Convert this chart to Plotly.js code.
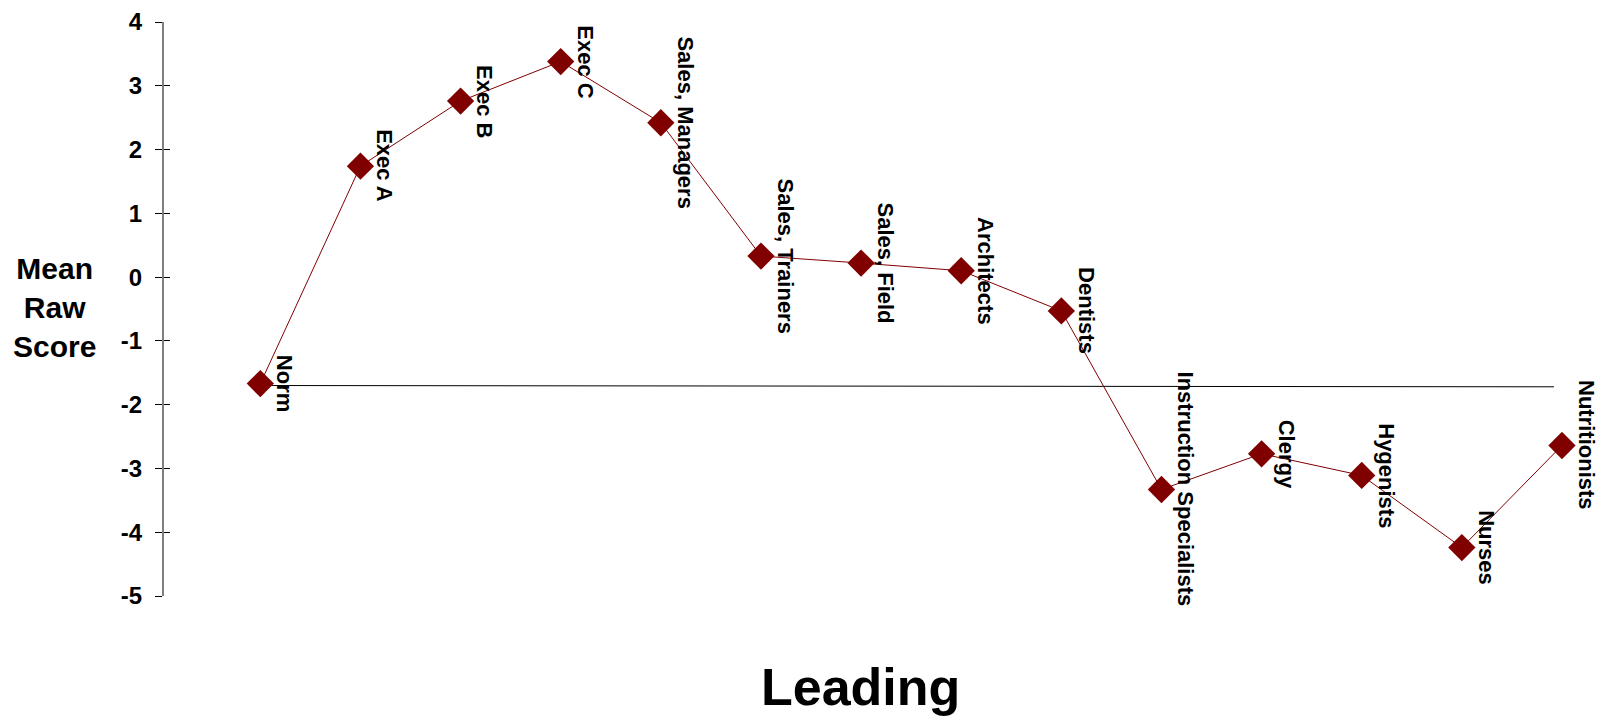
<!DOCTYPE html>
<html>
<head>
<meta charset="utf-8">
<script src="https://cdn.plot.ly/plotly-3.0.1.min.js"></script>
<style>
  html, body { margin: 0; padding: 0; background: #fff; }
  #chart { width: 1602px; height: 717px; }
</style>
</head>
<body>
<div id="chart"></div>
<script>
// Occupational groups and their mean raw scores on the Leading scale
const categories = [
  'Norm', 'Exec A', 'Exec B', 'Exec C', 'Sales, Managers', 'Sales, Trainers',
  'Sales, Field', 'Architects', 'Dentists', 'Instruction Specialists',
  'Clergy', 'Hygenists', 'Nurses', 'Nutritionists'
];
const meanRawScores = [
  -1.67, 1.74, 2.76, 3.38, 2.42, 0.33, 0.22, 0.10, -0.53, -3.33,
  -2.77, -3.11, -4.24, -2.64
];

// Norm reference line drawn across the groups
const normLineSpan = [0, 12.92];
const normLineLevel = [-1.70, -1.72];

const yTickValues = [4, 3, 2, 1, 0, -1, -2, -3, -4, -5];

const FONT = 'Liberation Sans, Arial, Helvetica, sans-serif';
const MAROON = '#800000';

const xIndex = categories.map((_, i) => i);

const traces = [
  {
    x: normLineSpan,
    y: normLineLevel,
    mode: 'lines',
    line: { color: '#000000', width: 1 },
    hoverinfo: 'skip',
    showlegend: false
  },
  {
    x: xIndex,
    y: meanRawScores,
    text: categories,
    mode: 'lines+markers',
    line: { color: MAROON, width: 1 },
    marker: { symbol: 'diamond', size: 21, color: MAROON },
    hovertemplate: '%{text}: %{y}<extra></extra>',
    showlegend: false
  }
];

// Group names written vertically beside each marker
const pointLabels = categories.map((name, i) => ({
  x: i,
  y: meanRawScores[i],
  xref: 'x',
  yref: 'y',
  text: name,
  showarrow: false,
  textangle: 90,
  xanchor: 'left',
  yanchor: 'middle',
  xshift: 10,
  font: { family: FONT, size: 22, weight: 'bold', color: '#000' }
}));

const layout = {
  width: 1602,
  height: 717,
  margin: { l: 164, r: 20, t: 22, b: 121, pad: 0 },
  paper_bgcolor: '#ffffff',
  plot_bgcolor: '#ffffff',
  showlegend: false,
  xaxis: {
    range: [-0.962, 13.2],
    showgrid: false,
    zeroline: false,
    showline: false,
    showticklabels: false,
    ticks: ''
  },
  yaxis: {
    range: [-5, 4],
    tickvals: yTickValues,
    ticktext: yTickValues.map(String),
    showgrid: false,
    zeroline: false,
    showline: true,
    linecolor: '#7f7f7f',
    linewidth: 2,
    ticks: 'outside',
    ticklen: 7,
    tickwidth: 1,
    tickcolor: '#000',
    ticklabelstandoff: 8,
    tickfont: { family: FONT, size: 24, weight: 'bold', color: '#000' }
  },
  yaxis2: {
    range: [-5, 4],
    overlaying: 'y',
    anchor: 'x',
    side: 'left',
    tickvals: yTickValues,
    showgrid: false,
    zeroline: false,
    showline: false,
    showticklabels: false,
    ticks: 'inside',
    ticklen: 6,
    tickwidth: 1,
    tickcolor: '#000'
  },
  annotations: pointLabels.concat([
    {
      xref: 'paper', yref: 'y',
      x: 0, y: -0.47,
      xshift: -110,
      xanchor: 'center', yanchor: 'middle',
      text: 'Mean<br>Raw<br>Score',
      align: 'center',
      showarrow: false,
      font: { family: FONT, size: 30, weight: 'bold', color: '#000' }
    },
    {
      xref: 'paper', yref: 'paper',
      x: 0.4915, y: 0,
      yshift: -91,
      xanchor: 'center', yanchor: 'middle',
      text: 'Leading',
      showarrow: false,
      font: { family: FONT, size: 52, weight: 'bold', color: '#000' }
    }
  ])
};

// A dummy trace keeps the overlay axis with its inner tick marks on screen
traces.push({ x: [null], y: [null], yaxis: 'y2', showlegend: false, hoverinfo: 'skip' });

Plotly.newPlot('chart', traces, layout, { displayModeBar: false, staticPlot: true });
</script>
</body>
</html>
